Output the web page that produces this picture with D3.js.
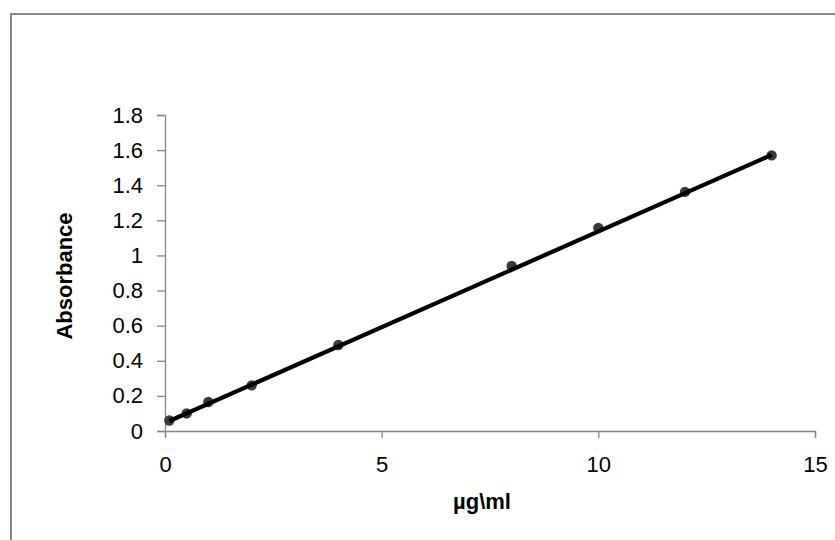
<!DOCTYPE html>
<html>
<head>
<meta charset="utf-8">
<script src="https://cdn.jsdelivr.net/npm/d3@7"></script>
<style>
  html, body { margin: 0; padding: 0; background: #fff; }
  svg { display: block; }
  text { font-family: "Liberation Sans", Arial, sans-serif; fill: #000; }
</style>
</head>
<body>
<svg id="chart" width="835" height="540"></svg>
<script>
// Data
const concentration = [0.1, 0.5, 1, 2, 4, 8, 10, 12, 14];
const absorbance    = [0.06, 0.10, 0.165, 0.26, 0.49, 0.94, 1.157, 1.362, 1.57];
// Linear trendline endpoints (as drawn)
const trendX = [0.1, 14];
const trendY = [0.057, 1.573];
const xTicks = [0, 5, 10, 15];
const yTicks = [0, 0.2, 0.4, 0.6, 0.8, 1, 1.2, 1.4, 1.6, 1.8];
const xTitle = "µg\\ml";
const yTitle = "Absorbance";

const svg = d3.select("#chart");

// outer frame (only top and left edges visible)
svg.append("path")
  .attr("d", "M11,540 L11,14 L835,14")
  .attr("fill", "none")
  .attr("stroke", "#858585")
  .attr("stroke-width", 2);

const x = d3.scaleLinear().domain([0, 15]).range([165, 815]);
const y = d3.scaleLinear().domain([0, 1.8]).range([431, 115]);

const fmtY = d => (d === 0 || d === 1) ? String(d) : d3.format(".1f")(d);

// Y axis
const yAxis = svg.append("g")
  .attr("transform", `translate(${x(0)},0)`)
  .call(d3.axisLeft(y).tickValues(yTicks).tickFormat(fmtY).tickSize(8).tickPadding(14));
// X axis
const xAxis = svg.append("g")
  .attr("transform", `translate(0,${y(0)})`)
  .call(d3.axisBottom(x).tickValues(xTicks).tickFormat(d3.format("d")).tickSize(7).tickPadding(18));

[xAxis, yAxis].forEach(g => {
  g.select(".domain").attr("stroke", "#868686").attr("stroke-width", 1.3);
  g.selectAll(".tick line").attr("stroke", "#868686").attr("stroke-width", 1.3);
  g.selectAll(".tick text")
    .style("font-family", '"Liberation Sans", Arial, sans-serif')
    .style("font-size", "22px")
    .attr("fill", "#000");
});

// markers
const pts = concentration.map((c, i) => ({ c, a: absorbance[i] }));
svg.append("g").selectAll("circle")
  .data(pts).enter().append("circle")
  .attr("cx", d => x(d.c))
  .attr("cy", d => y(d.a))
  .attr("r", 5.2)
  .attr("fill", "#3a3a3a");

// trendline
const trend = trendX.map((v, i) => ({ c: v, a: trendY[i] }));
svg.append("path")
  .datum(trend)
  .attr("d", d3.line().x(d => x(d.c)).y(d => y(d.a)))
  .attr("fill", "none")
  .attr("stroke", "#000")
  .attr("stroke-width", 4.2);

// axis titles
svg.append("text")
  .attr("transform", "translate(72,276) rotate(-90)")
  .attr("text-anchor", "middle")
  .style("font-size", "22px")
  .style("font-weight", "bold")
  .text(yTitle);

svg.append("text")
  .attr("x", 482)
  .attr("y", 509)
  .attr("text-anchor", "middle")
  .style("font-size", "22px")
  .style("font-weight", "bold")
  .text(xTitle);
</script>
</body>
</html>
